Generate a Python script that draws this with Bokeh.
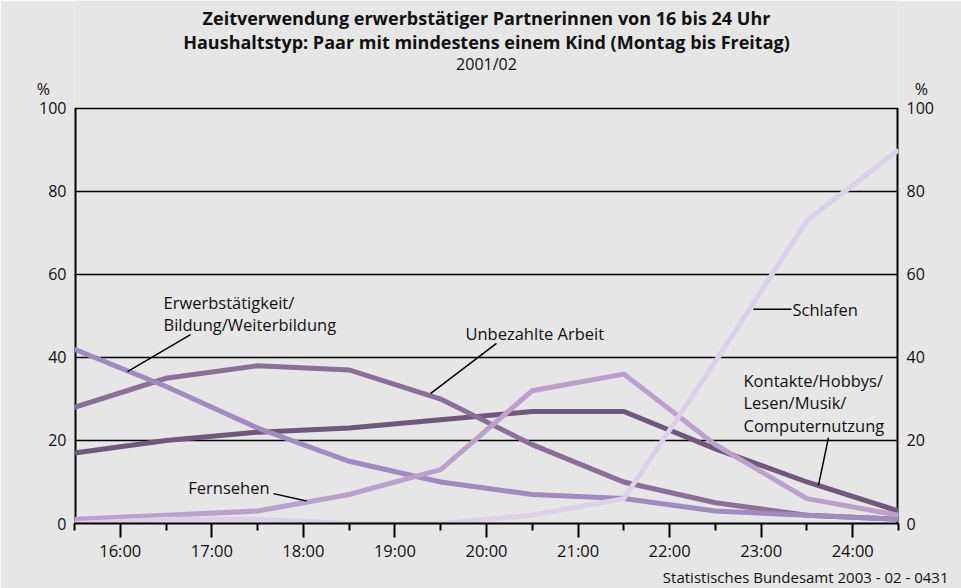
from bokeh.plotting import figure
from bokeh.models import Range1d, LinearAxis, FixedTicker, Label, Title
from bokeh.embed import file_html
from bokeh.resources import INLINE

# ---- data ----
hours = [15.5, 16.5, 17.5, 18.5, 19.5, 20.5, 21.5, 22.5, 23.5, 24.5]
kontakte = [17, 20, 22, 23, 25, 27, 27, 18, 10, 3]
unbezahlt = [28, 35, 38, 37, 30, 19, 10, 5, 2, 1]
erwerb = [42, 33, 23, 15, 10, 7, 6, 3, 2, 1]
fernsehen = [1, 2, 3, 7, 13, 32, 36, 19, 6, 2]
schlafen = [0, 1, 1, 0, 0, 2, 6, 39, 73, 90]

hour_ticks = [16, 17, 18, 19, 20, 21, 22, 23, 24]
half_ticks = [15.5, 16.5, 17.5, 18.5, 19.5, 20.5, 21.5, 22.5, 23.5, 24.5]
hour_labels = ["16:00", "17:00", "18:00", "19:00", "20:00", "21:00", "22:00", "23:00", "24:00"]
y_ticks = [0, 20, 40, 60, 80, 100]
unit_tick = 104.8  # where the "%" unit sits above the value axes

series = [
    ("Kontakte/Hobbys/Lesen/Musik/Computernutzung", kontakte, "#6f5879"),
    ("Unbezahlte Arbeit", unbezahlt, "#8a6f97"),
    ("Erwerbstätigkeit/Bildung/Weiterbildung", erwerb, "#9f8bbf"),
    ("Fernsehen", fernsehen, "#baa1cb"),
    ("Schlafen", schlafen, "#dcd1e6"),
]

FONT = "Open Sans"
BG = "#e6e6e6"
TXT = "#111111"
Y_TOP = 126.02

p = figure(width=961, height=588, x_range=Range1d(15.5, 24.5), y_range=Range1d(0, Y_TOP),
           output_backend="svg", toolbar_location=None, title=None,
           min_border_left=74, min_border_right=63, min_border_top=0, min_border_bottom=65,
           background_fill_color=BG, border_fill_color=BG, outline_line_color=None)

# y axes (value axes; unit "%" shown as an extra tick label above 100)
NB = "\u00a0"
p.yaxis.ticker = FixedTicker(ticks=y_ticks + [unit_tick])
p.yaxis.major_label_overrides = {unit_tick: "%" + NB * 4}
raxis = LinearAxis(ticker=FixedTicker(ticks=y_ticks + [unit_tick]))
raxis.major_label_overrides = {unit_tick: NB * 2 + "%"}
p.add_layout(raxis, "right")
for ax in [p.yaxis[0], raxis]:
    ax.major_tick_line_color = None
    ax.major_tick_out = 0
    ax.major_tick_in = 0
    ax.minor_tick_line_color = None
    ax.minor_tick_out = 0
    ax.minor_tick_in = 0
    ax.axis_line_color = None
    ax.major_label_standoff = 8
    ax.major_label_text_font = FONT
    ax.major_label_text_font_size = "16px"
    ax.major_label_text_color = TXT

# vertical axis lines from 0 to 100 (frame edges)
p.segment(x0=[15.5, 24.5], y0=[0, 0], x1=[15.5, 24.5], y1=[100, 100],
          line_color="black", line_width=4)

# x axis
xa = p.xaxis[0]
xa.ticker = FixedTicker(ticks=hour_ticks, minor_ticks=half_ticks)
xa.major_label_overrides = {t: l for t, l in zip(hour_ticks, hour_labels)}
xa.axis_line_color = "black"
xa.axis_line_width = 2
xa.major_tick_line_color = "black"
xa.major_tick_line_width = 2
xa.major_tick_in = 0
xa.major_tick_out = 14
xa.minor_tick_line_color = "black"
xa.minor_tick_line_width = 2
xa.minor_tick_in = 0
xa.minor_tick_out = 7
xa.major_label_standoff = 1
xa.major_label_text_font = FONT
xa.major_label_text_font_size = "16.5px"
xa.major_label_text_color = TXT

p.xgrid.grid_line_color = None
p.ygrid.ticker = FixedTicker(ticks=y_ticks)
p.ygrid.grid_line_color = "black"
p.ygrid.grid_line_width = 1.5
p.ygrid.grid_line_alpha = 1.0

for name, vals, col in series:
    p.line(hours, vals, line_width=5, color=col, line_join="miter")

# ---- annotations ----
leaders = [
    ((16.079, 36.6), (16.767, 45.5)),
    ((19.388, 31.3), (20.109, 43.4)),
    ((17.673, 7.2), (18.034, 5.4)),
    ((22.916, 51.6), (23.331, 51.6)),
    ((23.735, 20.7), (23.626, 9.2)),
]
p.segment(x0=[a[0][0] for a in leaders], y0=[a[0][1] for a in leaders],
          x1=[a[1][0] for a in leaders], y1=[a[1][1] for a in leaders],
          line_color="black", line_width=1.5)

labels = [
    ("Erwerbstätigkeit/", 16.472, 53.3, "left"),
    ("Bildung/Weiterbildung", 16.472, 47.9, "left"),
    ("Unbezahlte Arbeit", 19.770, 45.8, "left"),
    ("Fernsehen", 17.630, 8.7, "right"),
    ("Schlafen", 23.342, 51.6, "left"),
    ("Kontakte/Hobbys/", 22.807, 34.5, "left"),
    ("Lesen/Musik/", 22.807, 29.2, "left"),
    ("Computernutzung", 22.807, 23.6, "left"),
]
for txt, x, y, al in labels:
    p.add_layout(Label(x=x, y=y, text=txt, text_align=al, text_baseline="middle",
                       text_font=FONT, text_font_size="16.5px", text_color=TXT))

titles = [
    ("Zeitverwendung erwerbstätiger Partnerinnen von 16 bis 24 Uhr", 121.9, "bold", "18px"),
    ("Haushaltstyp: Paar mit mindestens einem Kind (Montag bis Freitag)", 115.9, "bold", "18px"),
    ("2001/02", 110.8, "normal", "16px"),
]
for txt, y, st, sz in titles:
    p.add_layout(Label(x=20.0, y=y, text=txt, text_align="center", text_baseline="middle",
                       text_font=FONT, text_font_style=st, text_font_size=sz, text_color=TXT))

footer = Title(text="Statistisches Bundesamt 2003 - 02 - 0431", align="right", offset=-50,
               standoff=1, text_font=FONT, text_font_size="15px", text_font_style="normal",
               text_color=TXT)
p.add_layout(footer, "below")

open("out.html", "w").write(file_html(p, INLINE))
